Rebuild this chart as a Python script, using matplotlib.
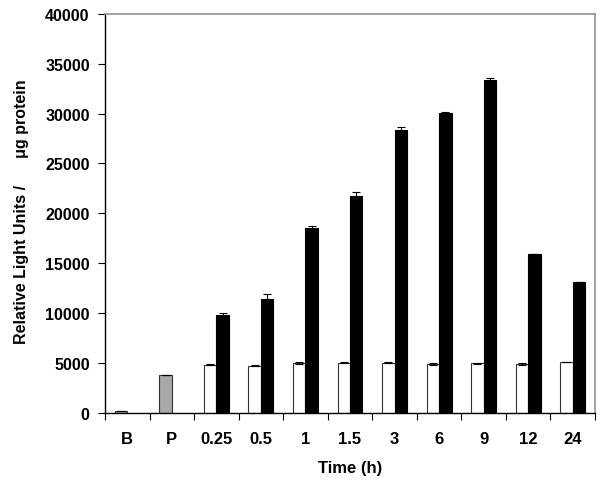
import matplotlib
matplotlib.use("Agg")
import matplotlib.pyplot as plt
import numpy as np

plt.rcParams['font.family'] = ['Liberation Sans', 'DejaVu Sans']
plt.rcParams['font.weight'] = 'bold'

categories = ['B', 'P', '0.25', '0.5', '1', '1.5', '3', '6', '9', '12', '24']
# B and P reference bars (grey)
ref_values = [150, 3800]
ref_errors = [0, 0]
# Time course: white (control) and black (treated)
white_values = [4780, 4700, 4980, 4980, 4980, 4880, 4950, 4880, 5100]
white_errors = [60, 60, 80, 60, 60, 80, 60, 80, 0]
black_values = [9830, 11400, 18500, 21750, 28400, 30050, 33350, 15900, 13150]
black_errors = [200, 450, 200, 350, 230, 100, 200, 0, 0]
yticks = [0, 5000, 10000, 15000, 20000, 25000, 30000, 35000, 40000]

fig = plt.figure(figsize=(6.06, 4.85), dpi=100)
ax = fig.add_axes([0.1733, 0.1474, 0.8085, 0.8216])

w = 0.28
x_all = np.arange(len(categories))
x_ref = x_all[:2]
x_time = x_all[2:]

ekw = dict(ecolor='black', capsize=3, elinewidth=0.8, capthick=0.8)
ax.bar(x_ref - w / 2, ref_values, width=w, color='#a8a8a8', edgecolor='#333333',
       linewidth=0.8, yerr=ref_errors, error_kw=ekw)
ax.bar(x_time - w / 2, white_values, width=w, color='white', edgecolor='#333333',
       linewidth=0.8, yerr=white_errors, error_kw=ekw)
ax.bar(x_time + w / 2, black_values, width=w, color='black', edgecolor='black',
       linewidth=0.8, yerr=black_errors, error_kw=ekw)

ax.set_xlim(-0.5, len(categories) - 0.5)
ax.set_ylim(0, 40000)
ax.set_yticks(yticks)
ax.set_yticklabels([str(t) for t in yticks], fontsize=11.5, fontweight='bold')

# boundary ticks (marks), centered labels
ax.set_xticks(np.arange(-0.5, len(categories), 1.0))
ax.set_xticklabels([])
ax.set_xticks(x_all, minor=True)
ax.set_xticklabels(categories, minor=True, fontsize=12, fontweight='bold')
ax.tick_params(axis='x', which='major', direction='out', length=5, width=0.8, color='black')
ax.tick_params(axis='x', which='minor', length=0, pad=13)
ax.tick_params(axis='y', direction='out', length=5, width=0.8, pad=6)

for s in ['left', 'bottom']:
    ax.spines[s].set_color('black')
    ax.spines[s].set_linewidth(1.0)
for s in ['top', 'right']:
    ax.spines[s].set_color('#909090')
    ax.spines[s].set_linewidth(1.2)

fig.text(0.5775, 0.033, 'Time (h)', ha='center', va='center', fontsize=12, fontweight='bold')
fig.text(0.036, 0.563, 'Relative Light Units /      \u03bcg protein', rotation=90,
         ha='center', va='center', fontsize=11.5, fontweight='bold')

fig.savefig('out.png', dpi=100)
